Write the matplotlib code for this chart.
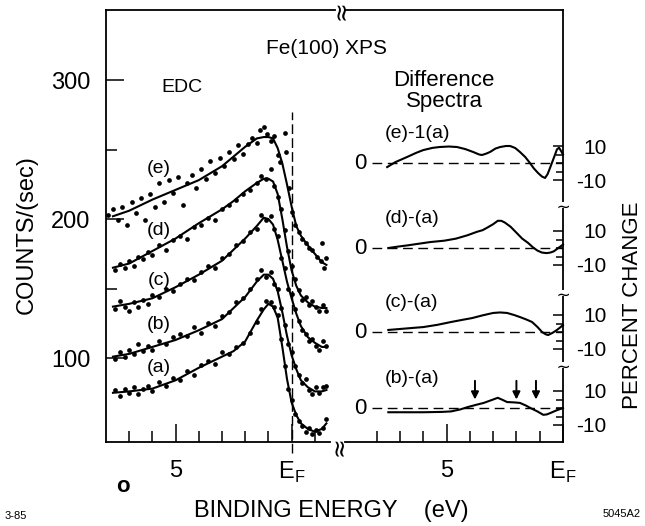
import numpy as np
import matplotlib.pyplot as plt

plt.rcParams['font.family'] = ['Liberation Sans', 'DejaVu Sans']

# ---- EDC data (binding energy in eV, counts/sec) ----
be_fit = [7.7, 7.0, 6.0, 5.0, 4.0, 3.0, 2.5, 2.0, 1.5, 1.2, 1.0, 0.8, 0.6,
          0.4, 0.2, 0.0, -0.2, -0.4, -0.7, -1.0, -1.3, -1.5]
fit_a = [75, 76, 78, 84, 93, 101, 105, 112, 127, 135, 139, 137, 129,
         108, 85, 68, 59, 53, 49, 47, 49, 53]
fit_b = [101, 103, 108, 113, 120, 128, 136, 144, 155, 160, 160, 157, 148,
         133, 116, 102, 92, 84, 79, 76, 76, 77]
fit_c = [137, 139, 143, 151, 160, 170, 178, 186, 195, 201, 200, 196, 185,
         170, 155, 143, 132, 123, 115, 111, 108, 108]
fit_d = [165, 168, 177, 186, 197, 207, 213, 220, 226, 229, 229, 227, 218,
         200, 180, 163, 152, 145, 140, 137, 136, 136]
fit_e = [202, 206, 214, 221, 228, 238, 245, 252, 258, 259, 259, 258, 251,
         240, 225, 209, 195, 188, 181, 175, 169, 167]

be_pts = [7.6, 7.4, 7.2, 7.0, 6.8, 6.6, 6.4, 6.2, 6.0, 5.7, 5.4, 5.1, 4.8,
          4.5, 4.2, 3.9, 3.6, 3.3, 3.0, 2.7, 2.4, 2.1, 1.8, 1.5, 1.3, 1.1,
          0.9, 0.75, 0.6, 0.45, 0.3, 0.15, 0.0, -0.15, -0.3, -0.45, -0.6,
          -0.75, -0.9, -1.05, -1.2, -1.35, -1.5]
pts_a = [77, 73, 78, 75, 79, 74, 78, 80, 76, 83, 80, 86, 84, 91, 88, 95,
         98, 96, 104, 103, 108, 111, 118, 126, 135, 141, 140, 137, 131, 114,
         94, 78, 70, 60, 55, 51, 47, 50, 45, 48, 46, 50, 56]
pts_b = [99, 104, 101, 106, 103, 110, 105, 109, 106, 112, 110, 115, 117,
         116, 122, 118, 125, 123, 130, 133, 140, 143, 150, 157, 163, 158,
         162, 153, 150, 136, 124, 110, 104, 94, 88, 82, 85, 77, 74, 79, 75,
         79, 80]
pts_c = [135, 141, 137, 134, 140, 137, 142, 139, 145, 144, 150, 148, 153,
         157, 156, 162, 166, 165, 172, 175, 181, 184, 191, 193, 203, 199,
         202, 193, 188, 172, 165, 150, 146, 135, 127, 120, 117, 112, 114,
         109, 106, 112, 109]
pts_d = [163, 168, 165, 170, 166, 173, 171, 176, 174, 181, 178, 185, 188,
         186, 194, 196, 201, 199, 207, 210, 214, 218, 221, 226, 231, 229,
         236, 224, 216, 207, 192, 177, 166, 157, 149, 142, 144, 138, 141,
         137, 134, 138, 134]
be_e = [7.9, 7.7, 7.5, 7.3, 7.1, 6.9, 6.7, 6.5, 6.3, 6.1, 5.9, 5.7, 5.5,
        5.3, 5.1, 4.9, 4.7, 4.5, 4.3, 4.1, 3.9, 3.7, 3.5, 3.3, 3.1, 2.9,
        2.7, 2.5, 2.3, 2.1, 1.9, 1.7, 1.5, 1.35, 1.2, 1.05, 0.9, 0.75, 0.6,
        0.5, 0.3, 0.25, 0.1, 0.0, -0.15, -0.3, -0.45, -0.6, -0.75, -0.9,
        -1.1, -1.25, -1.3, -1.4, -1.5]
pts_e = [203, 207, 199, 209, 196, 212, 204, 215, 199, 218, 209, 226, 212,
         228, 219, 230, 210, 226, 232, 222, 236, 229, 242, 233, 244, 238,
         248, 243, 253, 247, 254, 258, 255, 264, 266, 261, 256, 260, 246,
         241, 262, 248, 222, 205, 196, 191, 186, 183, 179, 178, 173, 170,
         183, 165, 172]

# ---- difference spectra (percent change) ----
be_de = [7.55, 7.2, 6.7, 6.3, 6.0, 5.6, 5.3, 4.9, 4.55, 4.2, 3.86, 3.6,
         3.48, 3.3, 3.13, 2.9, 2.7, 2.45, 2.27, 2.05, 1.85, 1.62, 1.42,
         1.25, 1.07, 0.9, 0.77, 0.66, 0.56, 0.45, 0.34, 0.26, 0.17, 0.08, 0.0]
diff_e = [-2.4, 0.5, 3.5, 6.0, 7.6, 8.9, 9.4, 9.7, 9.4, 8.2, 6.5, 5.0,
          4.7, 5.5, 6.5, 8.5, 9.4, 10.0, 10.0, 8.8, 6.5, 3.5, 0.0,
          -3.2, -5.9, -8.0, -8.8, -6.5, -3.0, 1.0, 5.0, 8.0, 9.0, 7.0, 5.0]
be_dd = [7.5, 7.1, 6.7, 6.2, 5.7, 5.1, 4.6, 4.1, 3.7, 3.45, 3.25, 3.0, 2.8,
         2.65, 2.5, 2.25, 2.0, 1.75, 1.5, 1.3, 1.1, 0.9, 0.7, 0.55, 0.4,
         0.2, 0.0]
diff_d = [0, 0.8, 1.5, 2.5, 3.5, 4.3, 5.5, 7.5, 9.5, 10.5, 12, 14, 16,
          16, 15, 12.5, 9, 5.5, 3, 0.5, -1.5, -2.7, -3, -2.7, -2, 0, 2]
be_dc = [7.5, 6.8, 6.0, 5.4, 4.8, 4.3, 3.9, 3.45, 3.0, 2.7, 2.4, 2.1, 1.85,
         1.6, 1.33, 1.1, 0.9, 0.75, 0.64, 0.45, 0.26, 0.12, 0.0]
diff_c = [1.2, 2.0, 2.9, 4.2, 5.9, 7.2, 8.2, 9.8, 11.2, 11.5, 11.2, 10.0,
          8.8, 7.5, 5.9, 3.0, 0, -1.3, -1.8, -0.5, 1.2, 2.7, 4.1]
be_db = [7.5, 6.0, 5.2, 4.8, 4.4, 4.1, 3.75, 3.4, 3.1, 2.8, 2.6, 2.4, 2.1,
         1.85, 1.6, 1.4, 1.1, 0.85, 0.7, 0.55, 0.3, 0.0]
diff_b = [-2.5, -2.5, -2.3, -2.0, -0.8, 0.5, 1.8, 3, 4.5, 6, 4.8, 3.5, 3.3,
          3, 1.5, 0, -2, -4, -3.8, -3, -1.5, 0]
arrow_be = [3.78, 2.0, 1.16]

edc_labels = ['(a)', '(b)', '(c)', '(d)', '(e)']
diff_labels = ['(e)-1(a)', '(d)-(a)', '(c)-(a)', '(b)-(a)']

# layout
W, H = 645, 526
fig = plt.figure(figsize=(W / 100, H / 100), dpi=100)


def fx(px):
    return px / W


def fy(py):
    return 1 - py / H


axl = fig.add_axes([fx(106), fy(442), (335 - 106) / W, 432 / H])
axr = fig.add_axes([fx(345), fy(442), (563 - 345) / W, 432 / H])

# ---------- left panel: EDC ----------
axl.set_xlim(8.0, -1.87)
axl.set_ylim(39.6, 350.4)
for yv in [fit_a, fit_b, fit_c, fit_d, fit_e]:
    axl.plot(be_fit, yv, color='k', lw=1.5)
for yv in [pts_a, pts_b, pts_c, pts_d]:
    axl.plot(be_pts, yv, 'o', color='k', ms=3.4, mew=0)
axl.plot(be_e, pts_e, 'o', color='k', ms=3.4, mew=0)

axl.axvline(0, ymin=-0.025, ymax=0.765, color='k', lw=1.0,
            dashes=(7, 3), clip_on=False)

lab_xy = [(5.72, 93.5), (5.72, 124), (5.72, 156), (5.72, 192), (5.72, 236.7)]
for lab, (xx, yy) in zip(edc_labels, lab_xy):
    axl.text(xx, yy, lab, fontsize=14, ha='center', va='center')

axl.spines['right'].set_visible(False)
axl.spines['bottom'].set_bounds(8.0, -1.65)
for s in axl.spines.values():
    s.set_linewidth(1.3)
axl.set_xticks([5, 0])
axl.set_xticklabels(['5', 'E$_\\mathregular{F}$'])
axl.set_xticks([7, 6, 4, 3, 2, 1, -1], minor=True)
axl.set_yticks([100, 200, 300])
axl.set_yticks([150, 250], minor=True)
axl.tick_params(which='both', direction='in', width=1.1, labelsize=17)
axl.tick_params(which='major', length=13)
axl.tick_params(which='minor', length=8)
axl.tick_params(axis='y', pad=11)
axl.tick_params(axis='x', pad=13)

# ---------- right panel: difference spectra ----------
px_per_pct = 1.7
offsets = [(442 - 163) / px_per_pct, (442 - 248) / px_per_pct,
           (442 - 332) / px_per_pct, (442 - 408) / px_per_pct]
axr.set_xlim(9.36, 0)
axr.set_ylim(0, 432 / px_per_pct)

curves = [(be_de, diff_e), (be_dd, diff_d), (be_dc, diff_c), (be_db, diff_b)]
for (bx, dy), off, lab in zip(curves, offsets, diff_labels):
    axr.plot(bx, np.array(dy) + off, color='k', lw=1.5, clip_on=False)
    axr.plot([8.2, 0], [off, off], color='k', lw=1.0, dashes=(7, 4))
    axr.text(8.71, off, '0', fontsize=16, ha='center', va='center')
    axr.text(7.65, off + 17.5, lab, fontsize=14, ha='left', va='center')

for be in arrow_be:
    axr.annotate('', xy=(be, offsets[3] + 5), xytext=(be, offsets[3] + 16),
                 arrowprops=dict(arrowstyle='-|>', color='k', lw=1.4,
                                 mutation_scale=11, shrinkA=0, shrinkB=0))

axr.spines['left'].set_visible(False)
for s in axr.spines.values():
    s.set_linewidth(1.3)
axr.set_xticks([5, 0])
axr.set_xticklabels(['5', 'E$_\\mathregular{F}$'])
axr.set_xticks([8, 7, 6, 4, 3, 2, 1], minor=True)
axr.tick_params(axis='x', which='both', direction='in', width=1.1,
                labelsize=17, pad=13)
axr.tick_params(axis='x', which='major', length=13)
axr.tick_params(axis='x', which='minor', length=8)

axr.yaxis.tick_right()
maj, lbl, mnr = [], [], []
for off in offsets:
    maj += [off + 10, off - 10]
    lbl += ['10', '-10']
    mnr += [off + 5, off, off - 5]
axr.set_yticks(maj)
axr.set_yticklabels(lbl)
axr.set_yticks(mnr, minor=True)
axr.tick_params(axis='y', which='both', direction='in', width=1.1,
                labelsize=15, pad=31.5)
axr.tick_params(axis='y', which='major', length=7)
axr.tick_params(axis='y', which='minor', length=5)
for t in axr.get_yticklabels():
    t.set_ha('right')

# breaks in the axes
for py in [205, 293, 365]:
    fig.text(fx(563), fy(py), '\u2240', fontsize=12, ha='center', va='center',
             rotation=90, family=['DejaVu Sans'],
             bbox=dict(fc='white', ec='none', pad=0.3))
fig.text(fx(341), fy(10), '\u2248', fontsize=17, ha='center', va='center',
         rotation=90, family=['DejaVu Sans'])
fig.text(fx(339), fy(446), '\u2248', fontsize=17, ha='center', va='center',
         rotation=90, family=['DejaVu Sans'])

# ---------- text ----------
fig.text(fx(326), fy(48), 'Fe(100) XPS', fontsize=15, ha='center', va='center')
fig.text(fx(182), fy(88), 'EDC', fontsize=14, ha='center', va='center')
fig.text(fx(444), fy(80), 'Difference', fontsize=16, ha='center', va='center')
fig.text(fx(444), fy(101), 'Spectra', fontsize=16, ha='center', va='center')
fig.text(fx(27), fy(235), 'COUNTS/(sec)', fontsize=17, rotation=90,
         ha='center', va='center')
fig.text(fx(633), fy(305), 'PERCENT CHANGE', fontsize=16, rotation=90,
         ha='center', va='center')
fig.text(fx(331), fy(511), 'BINDING ENERGY    (eV)', fontsize=17,
         ha='center', va='center')
fig.text(fx(123), fy(487), 'o', fontsize=16, fontweight='bold',
         ha='center', va='center')
fig.text(fx(5), fy(516), '3-85', fontsize=8, ha='left', va='center')
fig.text(fx(603), fy(514), '5045A2', fontsize=8, ha='left', va='center')

fig.savefig('out.png', dpi=100, facecolor='white')
